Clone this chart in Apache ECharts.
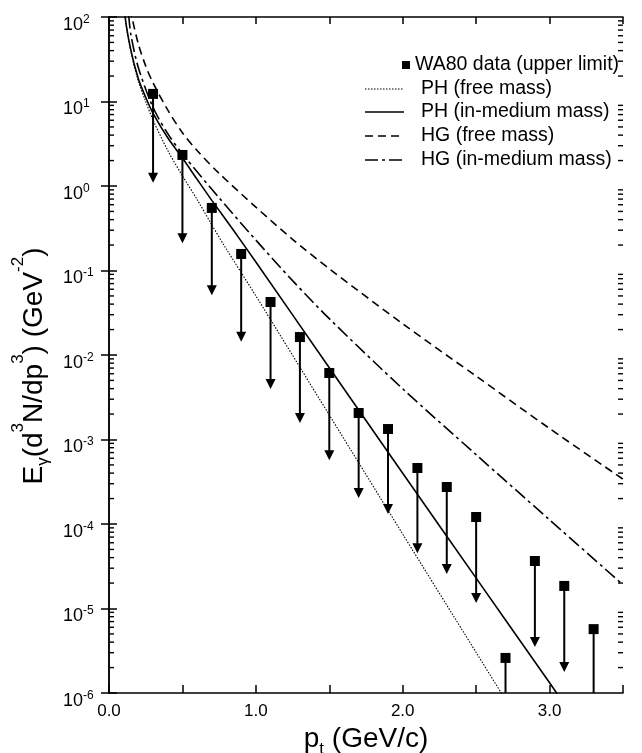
<!DOCTYPE html>
<html><head><meta charset="utf-8">
<script src="https://cdn.jsdelivr.net/npm/echarts@6/dist/echarts.min.js"></script>
<style>html,body{margin:0;padding:0;background:#fff}#c{width:642px;height:753px}</style>
</head><body><div id="c"></div>
<script>
// WA80 upper limits
const ptData = [0.3,0.5,0.7,0.9,1.1,1.3,1.5,1.7,1.9,2.1,2.3,2.5,2.7,2.9,3.1,3.3];
const upperLimit = [12.3,2.33,0.55,0.157,0.0424,0.0163,0.00612,0.00206,0.00133,4.6e-4,2.74e-4,1.21e-4,2.6e-6,3.65e-5,1.85e-5,5.7e-6];
const arrowTip = [1.09,0.21,0.051,0.0143,0.00396,0.00157,5.7e-4,2.03e-4,1.31e-4,4.5e-5,2.56e-5,1.16e-5,2.4e-7,3.5e-6,1.77e-6,5.3e-7];

// PH (free mass) - dotted
const phFreeX = [0.08,0.109,0.15,0.2,0.25,0.3,0.4,0.5,0.6,0.7,0.8,1.0,1.5,2.0,2.5,2.75];
const phFreeY = [398,100,38.0,17.4,10,6.03,2.63,1.32,0.692,0.347,0.178,0.0501,1.95e-3,7.59e-5,3.02e-6,6.0e-7];
// PH (in-medium mass) - solid
const phMedX = [0.08,0.11,0.15,0.2,0.25,0.3,0.4,0.5,0.6,0.7,0.85,1.0,1.5,2.0,2.5,3.0,3.1];
const phMedY = [398,100,39.8,18.6,11.2,7.24,3.72,2.14,1.20,0.676,0.295,0.126,7.08e-3,3.98e-4,2.29e-5,1.32e-6,7.4e-7];
// HG (free mass) - dashed
const hgFreeX = [0.14,0.157,0.2,0.25,0.3,0.4,0.5,0.6,0.75,1.0,1.25,1.5,2.0,2.5,3.0,3.5];
const hgFreeY = [178,100,47.9,26.3,16.6,7.94,4.27,2.63,1.41,0.562,0.234,0.105,0.0234,5.62e-3,1.35e-3,3.39e-4];
// HG (in-medium mass) - dash-dot
const hgMedX = [0.12,0.135,0.15,0.2,0.3,0.4,0.5,0.75,1.0,1.25,1.5,2.0,2.5,3.0,3.5];
const hgMedY = [200,100,60.3,25.1,8.51,4.17,2.40,0.724,0.229,0.0759,0.0269,3.98e-3,6.61e-4,1.12e-4,1.91e-5];

const xTickLabels = ['0.0','1.0','2.0','3.0'];
const legendLabels = ['WA80 data (upper limit)','PH (free mass)','PH (in-medium mass)','HG (free mass)','HG (in-medium mass)'];

const minorVals = [];
for (let e = -6; e < 2; e++) for (let m = 2; m <= 9; m++) minorVals.push(m * Math.pow(10, e));

const zip = (xs, ys) => xs.map((x, i) => [x, ys[i]]);
const FONT = 'Liberation Sans, Arial, Helvetica, sans-serif';
const lineStyles = {
  dotted: {color:'#000', width:1.1, type:[1.5,1.5]},
  solid: {color:'#000', width:1.6, type:'solid'},
  dashed: {color:'#000', width:1.6, type:[8,5]},
  dashdot: {color:'#000', width:1.6, type:[13,4,3,4]}
};

const chart = echarts.init(document.getElementById('c'), null, {renderer:'canvas'});

const yLabelRich = {
  b: {fontSize:18, fontFamily:FONT, color:'#000', lineHeight:18, padding:[8,0,4,0], verticalAlign:'top'},
  s: {fontSize:12, fontFamily:FONT, color:'#000', lineHeight:12, padding:[5.5,0,0,0], verticalAlign:'top'}
};
const tickStyle = {color:'#000', width:1.5};
const LEG_FONT = '19.5px ' + FONT;

const option = {
  backgroundColor:'#fff',
  animation:false,
  grid: {left:109, top:17, right:19, bottom:60, containLabel:false, outerBoundsMode:'none'},
  xAxis: [{
    type:'value', min:0, max:3.5, interval:0.5,
    axisLine:{show:true, lineStyle:{color:'#000', width:1.5}},
    axisTick:{show:true, inside:true, length:8, lineStyle:tickStyle},
    splitLine:{show:false},
    axisLabel:{margin:10, fontSize:17, fontFamily:FONT, color:'#000',
      formatter: v => { const i = Math.round(v); return Math.abs(v - i) < 1e-6 ? xTickLabels[i] : ''; }},
    name:'{n|p}{sub|t}{n| (GeV/c)}',
    nameLocation:'middle', nameGap:22,
    nameTextStyle:{rich:{
      n:{fontSize:28, fontFamily:FONT, color:'#000', lineHeight:30, verticalAlign:'top'},
      sub:{fontSize:17, fontFamily:FONT, color:'#000', lineHeight:17, padding:[16,0,0,0], verticalAlign:'top'}
    }}
  },{
    type:'value', min:0, max:3.5, interval:0.5, position:'top',
    axisLine:{show:true, lineStyle:{color:'#000', width:1.5}},
    axisTick:{show:true, inside:true, length:7, lineStyle:tickStyle},
    axisLabel:{show:false}, splitLine:{show:false}
  }],
  yAxis: [{
    type:'log', logBase:10, min:1e-6, max:100, splitNumber:8,
    axisLine:{show:true, lineStyle:{color:'#000', width:1.5}},
    axisTick:{show:true, inside:true, length:8, lineStyle:tickStyle},
    splitLine:{show:false},
    axisLabel:{margin:46, align:'left', formatter: v => '{b|10}{s|' + Math.round(Math.log10(v)) + '}', rich: yLabelRich},
    name:'{n|E}{sub|γ}{n|(d}{sup|3}{n|N/dp}{sup|3}{n|) (GeV}{sup|-2}{e|)}',
    nameLocation:'middle', nameRotate:90, nameGap:56,
    nameTextStyle:{rich:{
      n:{fontSize:28, fontFamily:FONT, color:'#000', lineHeight:28, padding:[16,0,0,0], verticalAlign:'top'},
      e:{fontSize:28, fontFamily:FONT, color:'#000', lineHeight:28, padding:[16,22,0,0], verticalAlign:'top'},
      sup:{fontSize:17, fontFamily:FONT, color:'#000', lineHeight:17, padding:[5.5,0,0,0], verticalAlign:'top'},
      sub:{fontSize:17, fontFamily:FONT, color:'#000', lineHeight:17, padding:[30.5,0,0,0], verticalAlign:'top'}
    }}
  },{
    type:'log', logBase:10, min:1e-6, max:100, splitNumber:8, position:'right',
    axisLine:{show:true, lineStyle:{color:'#000', width:1.5}},
    axisTick:{show:true, inside:true, length:8, lineStyle:tickStyle},
    axisLabel:{show:false}, splitLine:{show:false}
  }],
  series: [
    {name:legendLabels[1], type:'line', data:zip(phFreeX, phFreeY), showSymbol:false, smooth:0.3, clip:true, lineStyle:lineStyles.dotted},
    {name:legendLabels[2], type:'line', data:zip(phMedX, phMedY), showSymbol:false, smooth:0.3, clip:true, lineStyle:lineStyles.solid},
    {name:legendLabels[3], type:'line', data:zip(hgFreeX, hgFreeY), showSymbol:false, smooth:0.3, clip:true, lineStyle:lineStyles.dashed},
    {name:legendLabels[4], type:'line', data:zip(hgMedX, hgMedY), showSymbol:false, smooth:0.3, clip:true, lineStyle:lineStyles.dashdot},
    {
      name:'minor ticks', type:'custom', silent:true, z:10,
      data: minorVals.map(v => [0, v]),
      encode:{x:0, y:1},
      renderItem: (params, api) => {
        const v = api.value(1);
        const l = api.coord([0, v]);
        const r = api.coord([3.5, v]);
        const st = {stroke:'#000', lineWidth:1.4};
        return {type:'group', children:[
          {type:'line', shape:{x1:l[0], y1:l[1], x2:l[0]+5, y2:l[1]}, style:st},
          {type:'line', shape:{x1:r[0]-5, y1:r[1], x2:r[0], y2:r[1]}, style:st}
        ]};
      }
    },
    {
      name:'arrows', type:'custom', silent:true,
      data: ptData.map((x, i) => [x, upperLimit[i], arrowTip[i]]),
      encode:{x:0, y:1},
      renderItem: (params, api) => {
        const top = api.coord([api.value(0), api.value(1)]);
        const tip = api.coord([api.value(0), api.value(2)]);
        const cs = params.coordSys;
        const h = 10, w = 10;
        return {type:'group',
          clipPath:{type:'rect', shape:{x:cs.x, y:cs.y, width:cs.width, height:cs.height}},
          children:[
            {type:'line', shape:{x1:top[0], y1:top[1], x2:tip[0], y2:tip[1]-h+1}, style:{stroke:'#000', lineWidth:2}},
            {type:'polygon', shape:{points:[[tip[0]-w/2, tip[1]-h],[tip[0]+w/2, tip[1]-h],[tip[0], tip[1]]]}, style:{fill:'#000'}}
          ]};
      }
    },
    {name:legendLabels[0], type:'scatter', data:zip(ptData, upperLimit), symbol:'rect', symbolSize:10, itemStyle:{color:'#000', opacity:1}, z:5}
  ],
  graphic: [
    {type:'rect', shape:{x:402, y:61, width:8, height:8}, style:{fill:'#000'}},
    {type:'text', x:415, y:65, style:{text:legendLabels[0], font:LEG_FONT, fill:'#000', textVerticalAlign:'middle'}},
    {type:'line', shape:{x1:365, y1:89, x2:404, y2:89}, style:{stroke:'#000', lineWidth:1.1, lineDash:[1.5,1.5]}},
    {type:'text', x:421, y:89, style:{text:legendLabels[1], font:LEG_FONT, fill:'#000', textVerticalAlign:'middle'}},
    {type:'line', shape:{x1:365, y1:112, x2:404, y2:112}, style:{stroke:'#000', lineWidth:1.6}},
    {type:'text', x:421, y:112, style:{text:legendLabels[2], font:LEG_FONT, fill:'#000', textVerticalAlign:'middle'}},
    {type:'line', shape:{x1:365, y1:136, x2:404, y2:136}, style:{stroke:'#000', lineWidth:1.6, lineDash:[8,5]}},
    {type:'text', x:421, y:136, style:{text:legendLabels[3], font:LEG_FONT, fill:'#000', textVerticalAlign:'middle'}},
    {type:'line', shape:{x1:365, y1:160, x2:404, y2:160}, style:{stroke:'#000', lineWidth:1.6, lineDash:[13,4,3,4]}},
    {type:'text', x:421, y:160, style:{text:legendLabels[4], font:LEG_FONT, fill:'#000', textVerticalAlign:'middle'}}
  ]
};
chart.setOption(option);
</script>
</body></html>
